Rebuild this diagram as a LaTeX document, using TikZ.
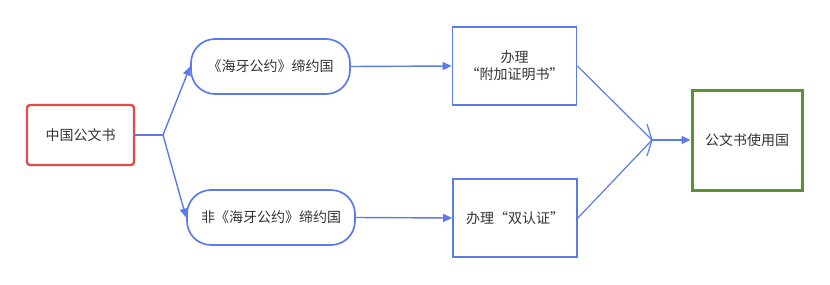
\documentclass[tikz,border=0pt]{standalone}
\usepackage{fontspec}
\setmainfont{Noto Sans CJK SC}
\usetikzlibrary{arrows.meta}
\definecolor{bl}{HTML}{5B7BEA}
\definecolor{rd}{HTML}{E04B4B}
\definecolor{gr}{HTML}{5A9430}
\definecolor{tx}{HTML}{333333}
\tikzset{
  base/.style={font=\fontsize{14pt}{17pt}\selectfont, text=tx, align=center, inner sep=0pt},
  srcbox/.style={base, draw=rd, line width=2.4pt, rounded corners=3pt, minimum width=107pt, minimum height=60pt},
  pill/.style={base, draw=bl, line width=1.7pt, rounded corners=24pt, minimum height=55pt},
  procbox/.style={base, draw=bl, line width=1.7pt, minimum width=124pt, minimum height=78pt},
  dstbox/.style={base, draw=gr, line width=3pt, minimum width=110pt, minimum height=100pt},
  conn/.style={draw=bl, line width=1.4pt},
  arr/.style={conn, -{Triangle[length=9pt,width=8pt]}},
}
\begin{document}
\begin{tikzpicture}[x=1pt,y=-1pt]
\useasboundingbox (0,0) rectangle (830,284);
\node[srcbox] (src) at (80.5,135) {中国公文书};
\node[pill, minimum width=159pt] (p1) at (270.5,66.5) {《海牙公约》缔约国};
\node[pill, minimum width=168pt] (p2) at (271,217.5) {非《海牙公约》缔约国};
\node[procbox] (b1) at (514.5,66) {办理\\“附加证明书”};
\node[procbox] (b2) at (515,218) {办理“双认证”};
\node[dstbox] (dst) at (747,140) {公文书使用国};
\coordinate (j1) at (163,135);
\coordinate (j2) at (652,140);
\draw[conn] (src.east) -- (j1);
\draw[arr] (j1) -- (p1.west);
\draw[arr] (j1) -- (p2.west);
\draw[arr] (p1.east) -- (b1.west);
\draw[arr] (p2.east) -- (b2.west);
\draw[conn, line width=1.2pt] (b1.east) -- (j2);
\draw[conn, line width=1.2pt] (b2.east) -- (j2);
\draw[conn, line width=1.2pt] (647,124) -- (j2) -- (647,156);
\draw[arr] (j2) -- (dst.west);
\end{tikzpicture}
\end{document}
